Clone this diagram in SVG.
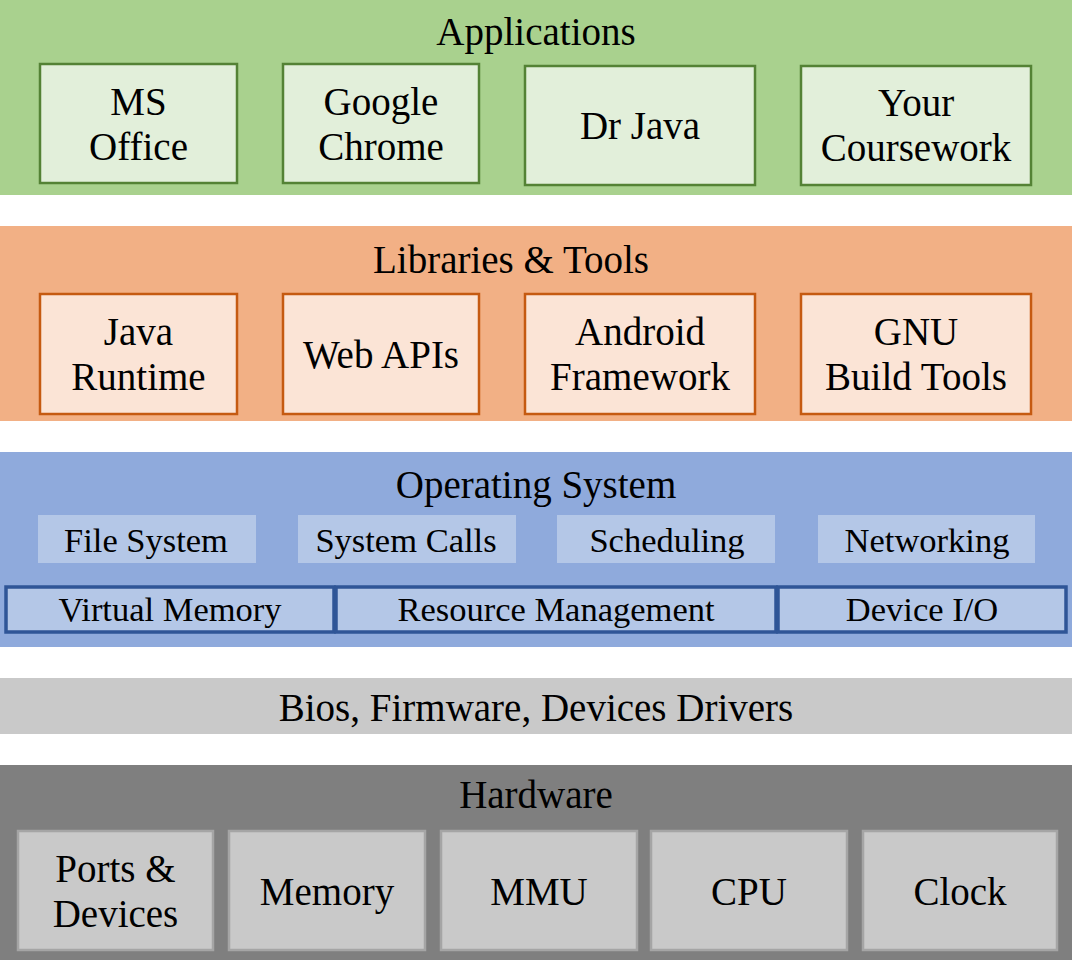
<svg xmlns="http://www.w3.org/2000/svg" width="1072" height="960" viewBox="0 0 1072 960">
<style>
text{font-family:"Liberation Serif","Times New Roman",serif;fill:#000;text-anchor:middle}
.t{font-size:39px}
.s{font-size:34.5px}
.appBand{fill:#a9d18e}
.app{fill:#e2efda;stroke:#548235;stroke-width:2.5}
.libBand{fill:#f2b085}
.lib{fill:#fbe4d6;stroke:#c55a11;stroke-width:2.5}
.osBand{fill:#8faadc}
.os1{fill:#b4c7e7}
.os2{fill:#b4c7e7;stroke:#2f5597;stroke-width:3.5}
.bios{fill:#c9c9c9}
.hwBand{fill:#7f7f7f}
.hw{fill:#c9c9c9;stroke:#a5a5a5;stroke-width:2.5}
</style>
<g id="applications">
<rect class="appBand" x="0" y="0" width="1072" height="195"/>
<text class="t" x="536" y="45">Applications</text>
<g id="ms-office"><rect class="app" x="40" y="64" width="197" height="119"/><text class="t" x="138.5" y="115">MS</text><text class="t" x="138.5" y="160">Office</text></g>
<g id="google-chrome"><rect class="app" x="283" y="64" width="196" height="119"/><text class="t" x="381" y="115">Google</text><text class="t" x="381" y="160">Chrome</text></g>
<g id="dr-java"><rect class="app" x="525" y="66" width="230" height="119"/><text class="t" x="640" y="139">Dr Java</text></g>
<g id="your-coursework"><rect class="app" x="801" y="66" width="230" height="119"/><text class="t" x="916" y="116">Your</text><text class="t" x="916" y="161">Coursework</text></g>
</g>
<g id="libraries">
<rect class="libBand" x="0" y="226" width="1072" height="195"/>
<text class="t" x="511" y="273">Libraries &amp; Tools</text>
<g id="java-runtime"><rect class="lib" x="40" y="294" width="197" height="120"/><text class="t" x="138.5" y="345">Java</text><text class="t" x="138.5" y="390">Runtime</text></g>
<g id="web-apis"><rect class="lib" x="283" y="294" width="196" height="120"/><text class="t" x="381" y="368">Web APIs</text></g>
<g id="android-framework"><rect class="lib" x="525" y="294" width="230" height="120"/><text class="t" x="640" y="345">Android</text><text class="t" x="640" y="390">Framework</text></g>
<g id="gnu-build-tools"><rect class="lib" x="801" y="294" width="230" height="120"/><text class="t" x="916" y="345">GNU</text><text class="t" x="916" y="390">Build Tools</text></g>
</g>
<g id="operating-system">
<rect class="osBand" x="0" y="452" width="1072" height="195"/>
<text class="t" x="536" y="498">Operating System</text>
<g id="file-system"><rect class="os1" x="38" y="515" width="218" height="48"/><text class="s" x="146" y="552">File System</text></g>
<g id="system-calls"><rect class="os1" x="298" y="515" width="218" height="48"/><text class="s" x="406" y="552">System Calls</text></g>
<g id="scheduling"><rect class="os1" x="557" y="515" width="218" height="48"/><text class="s" x="667" y="552">Scheduling</text></g>
<g id="networking"><rect class="os1" x="818" y="515" width="217" height="48"/><text class="s" x="927" y="552">Networking</text></g>
<g id="virtual-memory"><rect class="os2" x="6" y="587" width="328" height="45"/><text class="s" x="170" y="621">Virtual Memory</text></g>
<g id="resource-management"><rect class="os2" x="336" y="587" width="440" height="45"/><text class="s" x="556" y="621">Resource Management</text></g>
<g id="device-io"><rect class="os2" x="778" y="587" width="288" height="45"/><text class="s" x="922" y="621">Device I/O</text></g>
</g>
<g id="bios">
<rect class="bios" x="0" y="678" width="1072" height="56"/>
<text class="t" x="536" y="721">Bios, Firmware, Devices Drivers</text>
</g>
<g id="hardware">
<rect class="hwBand" x="0" y="765" width="1072" height="195"/>
<text class="t" x="536" y="808">Hardware</text>
<g id="ports-devices"><rect class="hw" x="18" y="831" width="195" height="119"/><text class="t" x="115.5" y="882">Ports &amp;</text><text class="t" x="115.5" y="927">Devices</text></g>
<g id="memory"><rect class="hw" x="229" y="831" width="196" height="119"/><text class="t" x="327" y="905">Memory</text></g>
<g id="mmu"><rect class="hw" x="441" y="831" width="196" height="119"/><text class="t" x="539" y="905">MMU</text></g>
<g id="cpu"><rect class="hw" x="651" y="831" width="196" height="119"/><text class="t" x="749" y="905">CPU</text></g>
<g id="clock"><rect class="hw" x="863" y="831" width="194" height="119"/><text class="t" x="960" y="905">Clock</text></g>
</g>
<g id="connectors"/>
</svg>
